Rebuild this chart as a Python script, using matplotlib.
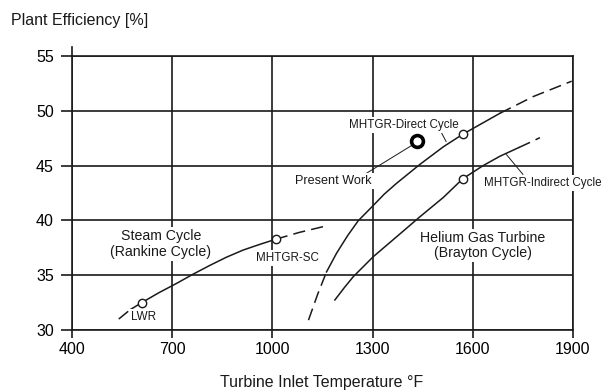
import matplotlib
matplotlib.use('Agg')
import matplotlib.pyplot as plt

plt.rcParams['font.family'] = ['Liberation Sans', 'DejaVu Sans']

ink = '#1a1a1a'

# Axis ticks
x_ticks = [400, 700, 1000, 1300, 1600, 1900]
y_ticks = [30, 35, 40, 45, 50, 55]

# Steam cycle (Rankine)
steam_lo_x = [540, 574]
steam_lo_y = [31.0, 31.85]
steam_x = [574, 609, 660, 713, 763, 813, 863, 913, 963, 1010]
steam_y = [31.85, 32.5, 33.4, 34.25, 35.1, 35.9, 36.65, 37.3, 37.82, 38.28]
steam_hi_x = [1010, 1080, 1152]
steam_hi_y = [38.28, 38.9, 39.43]

# MHTGR direct cycle
direct_lo_x = [1108, 1136, 1162]
direct_lo_y = [30.9, 33.3, 35.3]
direct_x = [1162, 1192, 1225, 1257, 1300, 1335, 1372, 1442, 1512, 1570, 1631, 1681]
direct_y = [35.3, 37.0, 38.6, 39.97, 41.3, 42.4, 43.39, 45.12, 46.72, 47.86, 48.91, 49.77]
direct_hi_x = [1681, 1781, 1896]
direct_hi_y = [49.77, 51.3, 52.7]

# MHTGR indirect cycle
indirect_x = [1187, 1215, 1242, 1302, 1372, 1442, 1512, 1570, 1631, 1681, 1738]
indirect_y = [32.74, 33.85, 34.86, 36.69, 38.51, 40.34, 42.1, 43.8, 45.0, 45.85, 46.65]
indirect_hi_x = [1738, 1770, 1801]
indirect_hi_y = [46.65, 47.1, 47.55]

# Design points
points_x = [609, 1010, 1570, 1570]
points_y = [32.5, 38.28, 47.86, 43.8]
present_x = 1432
present_y = 47.2

fig = plt.figure(figsize=(6.02, 3.92), dpi=100)
ax = fig.add_axes([72 / 602, 1 - 330 / 392, 501 / 602, 274 / 392])

ax.set_xlim(400, 1900)
ax.set_ylim(30, 55)
ax.set_xticks(x_ticks)
ax.set_yticks(y_ticks)
ax.grid(True, color=ink, lw=1.2)
for s in ax.spines.values():
    s.set_color(ink)
    s.set_linewidth(1.2)
ax.tick_params(axis='x', length=6, width=1.2, color=ink, labelsize=11.5, pad=3)
ax.tick_params(axis='y', length=8, width=1.2, color=ink, labelsize=11.5, pad=5)
# y axis runs a little past the top grid line
ax.plot([400, 400], [55, 55.8], color=ink, lw=1.2, clip_on=False)

lw = 1.1
dash = (8, 4)
ax.plot(steam_lo_x, steam_lo_y, color=ink, lw=lw, dashes=dash)
ax.plot(steam_x, steam_y, color=ink, lw=lw)
ax.plot(steam_hi_x, steam_hi_y, color=ink, lw=lw, dashes=dash)
ax.plot(direct_lo_x, direct_lo_y, color=ink, lw=lw, dashes=dash)
ax.plot(direct_x, direct_y, color=ink, lw=lw)
ax.plot(direct_hi_x, direct_hi_y, color=ink, lw=lw, dashes=dash)
ax.plot(indirect_x, indirect_y, color=ink, lw=lw)
ax.plot(indirect_hi_x, indirect_hi_y, color=ink, lw=lw, dashes=dash)

ax.plot(points_x, points_y, 'o', ms=6, mfc='white', mec=ink, mew=1, zorder=5)
ax.plot(present_x, present_y, 'o', ms=8.5, mfc='white', mec='black', mew=2.6, zorder=5)

# leader lines
ax.plot([1271, 1415], [44.1, 46.8], color=ink, lw=0.7)
ax.plot([1507, 1520], [47.95, 47.2], color=ink, lw=0.7)
ax.plot([1701, 1750], [46.0, 44.2], color=ink, lw=0.7)

box = dict(facecolor='white', edgecolor='none', pad=1.5)
ax.text(666, 37.85, 'Steam Cycle\n(Rankine Cycle)', ha='center', va='center',
        fontsize=10.2, color=ink, linespacing=1.1, bbox=box, zorder=4)
ax.text(1630, 37.7, 'Helium Gas Turbine\n(Brayton Cycle)', ha='center', va='center',
        fontsize=10.2, color=ink, linespacing=1.1, bbox=box, zorder=4)
ax.text(1045, 36.6, 'MHTGR-SC', ha='center', va='center',
        fontsize=8.4, color=ink, bbox=box, zorder=4)
ax.text(577, 31.2, 'LWR', ha='left', va='center',
        fontsize=8.4, color=ink, bbox=box, zorder=4)
ax.text(1394, 48.7, 'MHTGR-Direct Cycle', ha='center', va='center',
        fontsize=8.4, color=ink, bbox=box, zorder=4)
ax.text(1297, 43.6, 'Present Work', ha='right', va='center',
        fontsize=9.1, color=ink, bbox=box, zorder=4)
ax.text(1634, 43.4, 'MHTGR-Indirect Cycle', ha='left', va='center',
        fontsize=8.4, color=ink, bbox=box, zorder=6, clip_on=False)

fig.text(11 / 602, 1 - 20 / 392, 'Plant Efficiency [%]', ha='left', va='center',
         fontsize=11.5, color=ink)
fig.text(322 / 602, 1 - 382 / 392, 'Turbine Inlet Temperature \u00b0F', ha='center',
         va='center', fontsize=11.5, color=ink)

fig.savefig('out.png', dpi=100, facecolor='white')
